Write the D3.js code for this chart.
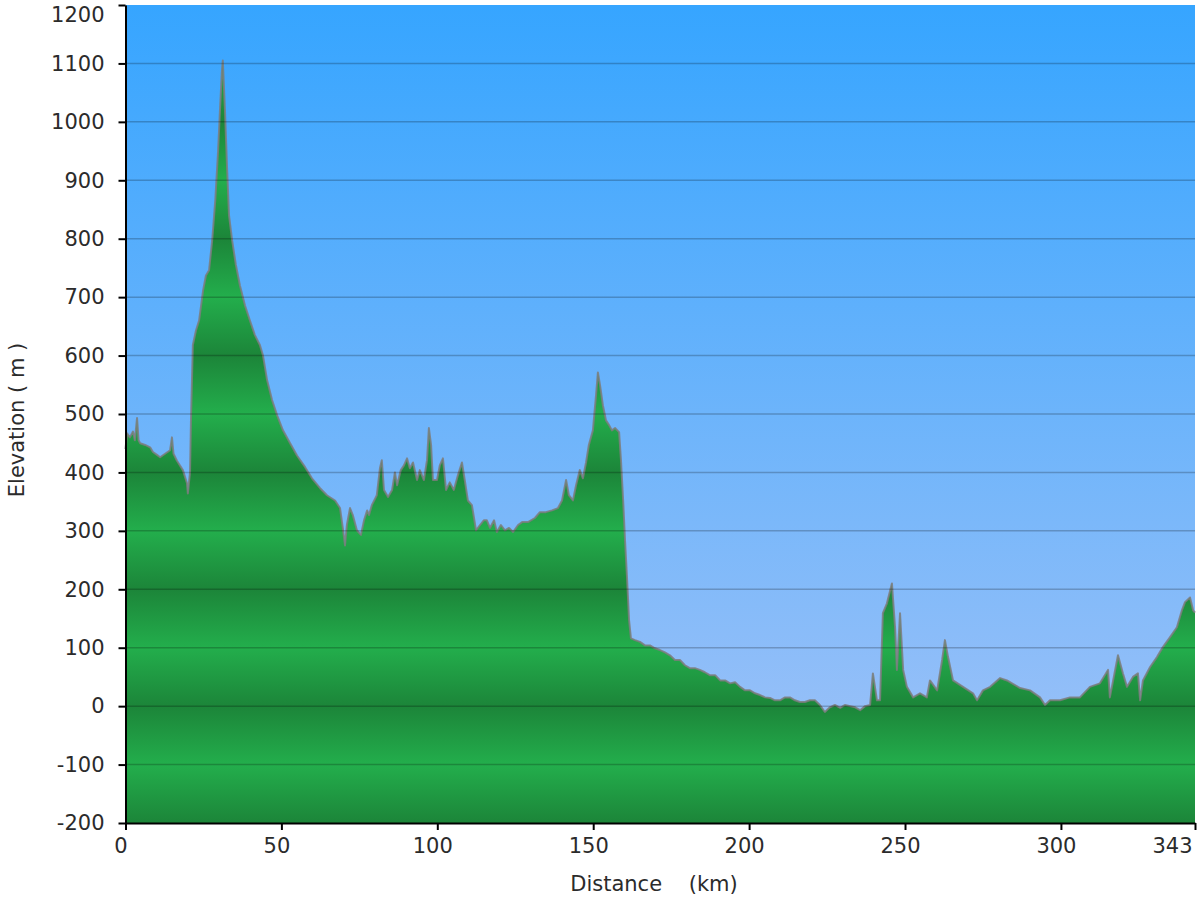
<!DOCTYPE html>
<html>
<head>
<meta charset="utf-8">
<script src="https://cdn.jsdelivr.net/npm/d3@7"></script>
<style>
  html, body { margin: 0; padding: 0; background: #ffffff; }
  svg { display: block; }
  text { font-family: "DejaVu Sans", Verdana, sans-serif; fill: #2b2b2b; }
</style>
</head>
<body>
<svg id="chart" width="1200" height="900"></svg>
<script>
// ---- data (distance in km, elevation in m) ----
const distanceKm = [
  0, 0.5, 1.4, 2.4, 3.0, 3.7, 4.2, 4.7, 6.3, 7.9, 8.8, 10.1, 11.1, 12.7, 14.3, 14.9, 15.4, 16.5, 18.4, 19.7,
  20.0, 20.7, 21.0, 21.6, 22.6, 23.6, 24.9, 25.8, 26.8, 27.8, 28.8, 29.7, 30.3, 30.9, 31.2, 31.9, 32.6, 33.2, 34.2, 35.4,
  36.7, 38.3, 39.9, 41.5, 43.1, 44.1, 45.4, 47.0, 48.6, 50.5, 52.8, 55.0, 57.6, 59.8, 62.4, 64.6, 67.2, 68.8, 69.8, 70.4,
  71.0, 72.0, 72.9, 74.2, 75.5, 76.5, 77.5, 78.1, 79.0, 80.6, 81.6, 82.2, 82.9, 84.2, 85.5, 86.4, 87.1, 88.3, 89.3, 90.3,
  91.2, 92.2, 93.5, 94.4, 95.7, 96.7, 97.3, 98.0, 98.6, 99.9, 100.8, 101.8, 102.8, 104.0, 105.3, 106.6, 107.9, 108.8, 109.8, 111.1,
  112.4, 113.7, 114.9, 115.9, 116.9, 118.2, 119.1, 120.4, 121.7, 123.0, 124.3, 125.9, 127.2, 129.1, 131.3, 132.9, 134.8, 136.8, 138.7, 140.0,
  141.3, 142.2, 143.5, 144.5, 145.7, 146.7, 147.7, 148.6, 149.9, 150.9, 151.5, 152.2, 153.1, 154.1, 155.1, 156.0, 157.0, 158.3, 158.9, 159.6,
  160.2, 160.8, 161.5, 162.1, 163.4, 165.0, 166.6, 168.2, 169.8, 171.4, 173.0, 174.6, 176.2, 177.8, 179.4, 181.0, 182.6, 184.2, 185.8, 187.4,
  189.1, 190.7, 192.3, 193.9, 195.5, 197.1, 198.7, 200.3, 201.9, 203.5, 205.1, 206.7, 208.3, 209.9, 211.5, 213.1, 214.7, 216.3, 217.9, 219.5,
  221.1, 222.7, 224.3, 225.9, 227.5, 229.2, 230.8, 232.4, 234.0, 235.6, 237.2, 238.8, 239.7, 241.0, 242.0, 242.9, 244.2, 245.8, 246.8, 247.4,
  248.4, 249.4, 250.6, 252.6, 254.8, 257.0, 258.0, 260.3, 261.9, 262.8, 263.8, 265.4, 268.6, 271.8, 273.1, 275.0, 277.3, 280.5, 282.7, 286.9,
  290.1, 293.3, 294.9, 296.5, 299.7, 302.9, 306.1, 309.3, 312.5, 315.1, 315.7, 318.3, 319.9, 321.2, 323.1, 324.7, 325.4, 326.3, 328.6, 330.8,
  332.7, 335.0, 337.2, 338.8, 339.8, 341.4, 342.4, 343
];
const elevationM = [
  440, 467, 460, 470, 455, 493, 455, 450, 447, 443, 435, 430, 426, 432, 438, 460, 432, 420, 404, 382,
  364, 400, 489, 618, 643, 660, 712, 737, 746, 797, 866, 951, 1020, 1085, 1105, 1020, 917, 840, 797, 755,
  720, 686, 660, 635, 618, 600, 558, 524, 498, 472, 450, 429, 409, 390, 373, 361, 352, 339, 301, 275,
  310, 339, 327, 301, 293, 318, 335, 327, 344, 361, 407, 421, 370, 358, 370, 400, 378, 404, 412, 424,
  407, 417, 387, 404, 387, 421, 476, 447, 387, 387, 412, 424, 370, 383, 370, 395, 417, 387, 352, 344,
  301, 310, 318, 318, 305, 318, 298, 310, 301, 305, 298, 310, 315, 315, 322, 332, 332, 335, 339, 352,
  387, 361, 352, 378, 404, 390, 417, 447, 472, 532, 571, 549, 515, 489, 481, 472, 476, 469, 421, 352,
  284, 224, 147, 116, 113, 110, 104, 104, 99, 96, 92, 87, 79, 79, 70, 65, 65, 62, 58, 53,
  53, 44, 44, 39, 41, 33, 27, 27, 22, 19, 15, 14, 10, 10, 15, 15, 10, 7, 7, 10,
  10, 2, -10, -2, 2, -3, 2, 0, -2, -7, 0, 2, 56, 10, 10, 159, 176, 210, 135, 62,
  159, 62, 33, 15, 22, 15, 44, 27, 79, 113, 84, 44, 33, 22, 10, 27, 33, 48, 44, 31,
  27, 15, 2, 10, 10, 15, 15, 33, 39, 62, 15, 87, 56, 33, 50, 56, 10, 44, 67, 84,
  101, 118, 135, 164, 178, 186, 164, 160
];
const yTickValues = [-200, -100, 0, 100, 200, 300, 400, 500, 600, 700, 800, 900, 1000, 1100, 1200];
const xTickValues = [0, 50, 100, 150, 200, 250, 300, 343];
const gridValues = [-100, 0, 100, 200, 300, 400, 500, 600, 700, 800, 900, 1000, 1100];
const yTitle = "Elevation ( m )";
const xTitle = "Distance    (km)";

(function () {
// ---- layout ----
const pLeft = 125.5, pRight = 1195, pTop = 5, pBottom = 823;
const fs = 21;
const svg = d3.select("#chart");
const x = d3.scaleLinear().domain([0, 343]).range([pLeft, pRight]);
const y = d3.scaleLinear().domain([-200, 1200]).range([pBottom, pTop]);

const defs = svg.append("defs");
const sky = defs.append("linearGradient").attr("id", "sky")
  .attr("gradientUnits", "userSpaceOnUse").attr("x1", 0).attr("x2", 0)
  .attr("y1", pTop).attr("y2", pBottom);
sky.append("stop").attr("offset", "0%").attr("stop-color", "#36a5ff");
sky.append("stop").attr("offset", "100%").attr("stop-color", "#a3c3f7");

const green = defs.append("linearGradient").attr("id", "green")
  .attr("gradientUnits", "userSpaceOnUse").attr("spreadMethod", "reflect")
  .attr("x1", 0).attr("x2", 0).attr("y1", y(100)).attr("y2", y(0));
green.append("stop").attr("offset", "0%").attr("stop-color", "#23ae4c");
green.append("stop").attr("offset", "100%").attr("stop-color", "#1c8539");

svg.append("rect").attr("x", pLeft).attr("y", pTop)
  .attr("width", pRight - pLeft).attr("height", pBottom - pTop).attr("fill", "url(#sky)");

const pts = distanceKm.map((d, i) => [d, elevationM[i]]);
const area = d3.area().x(d => x(d[0])).y0(y(-200)).y1(d => y(d[1]));
const line = d3.line().x(d => x(d[0])).y(d => y(d[1]));

svg.append("path").datum(pts).attr("d", area).attr("fill", "url(#green)");
svg.append("path").datum(pts).attr("d", line)
  .attr("fill", "none").attr("stroke", "#7d7d7d").attr("stroke-opacity", 0.85)
  .attr("stroke-width", 2).attr("stroke-linejoin", "round");

// gridlines
svg.append("g").selectAll("line").data(gridValues).join("line")
  .attr("x1", pLeft).attr("x2", pRight)
  .attr("y1", d => y(d)).attr("y2", d => y(d))
  .attr("stroke", "rgba(0,0,0,0.22)").attr("stroke-width", 1.5);

// axes
const fmt = d => String(d);
const yAxis = svg.append("g").attr("transform", `translate(${pLeft},0)`)
  .call(d3.axisLeft(y).tickValues(yTickValues).tickFormat(fmt).tickSize(7).tickSizeOuter(0).tickPadding(14));
const xAxis = svg.append("g").attr("transform", `translate(0,${pBottom})`)
  .call(d3.axisBottom(x).tickValues(xTickValues).tickFormat(fmt).tickSize(7).tickSizeOuter(0).tickPadding(8));

[yAxis, xAxis].forEach(g => {
  g.select(".domain").attr("stroke", "#000").attr("stroke-width", 2);
  g.selectAll(".tick line").attr("stroke", "#000").attr("stroke-width", 2);
  g.selectAll(".tick text").attr("font-size", fs).attr("fill", "#2b2b2b")
    .attr("font-family", "'DejaVu Sans', Verdana, sans-serif");
});
yAxis.selectAll(".tick text").filter(d => d === 1200).attr("dy", "0.78em");
xAxis.selectAll(".tick text").attr("dx", -5);
xAxis.selectAll(".tick text").filter(d => d === 343).attr("text-anchor", "end").attr("dx", -3);

// titles
svg.append("text").attr("transform", `translate(24,${(pTop + pBottom) / 2 + 6}) rotate(-90)`)
  .attr("text-anchor", "middle").attr("font-size", fs).text(yTitle);
svg.append("text").attr("x", 654).attr("y", 891).attr("text-anchor", "middle")
  .attr("font-size", fs).style("white-space", "pre").text(xTitle);
})();
</script>
</body>
</html>
